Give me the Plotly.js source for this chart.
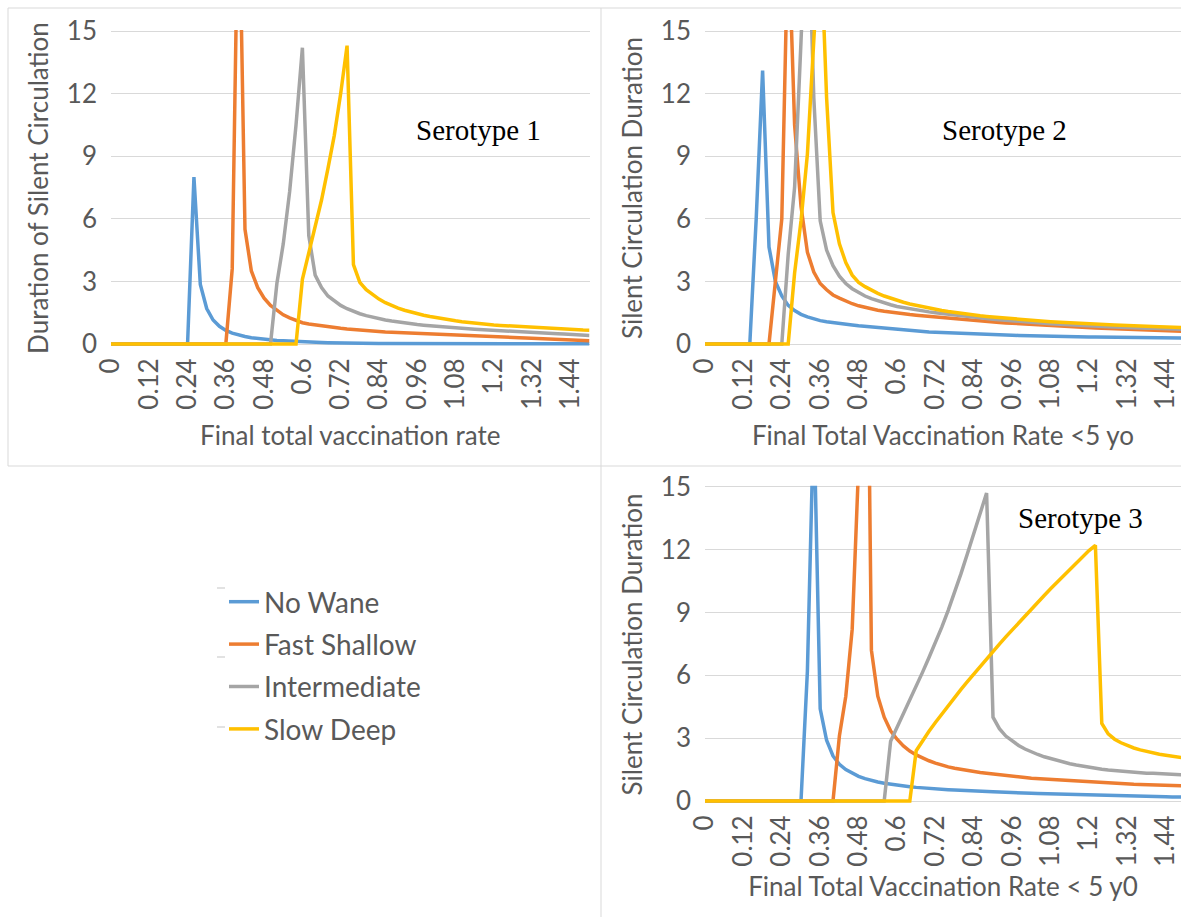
<!DOCTYPE html>
<html>
<head>
<meta charset="utf-8">
<script src="https://cdn.plot.ly/plotly-3.0.1.min.js"></script>
<style>
  html, body { margin: 0; padding: 0; background: #ffffff; }
  #chart { width: 1181px; height: 917px; }
</style>
</head>
<body>
<div id="chart"></div>
<script>
// ---------------- DATA ----------------
const rates = [0,0.02,0.04,0.06,0.08,0.1,0.12,0.14,0.16,0.18,
  0.2,0.22,0.24,0.26,0.28,0.3,0.32,0.34,0.36,0.38,
  0.4,0.42,0.44,0.46,0.48,0.5,0.52,0.54,0.56,0.58,
  0.6,0.62,0.64,0.66,0.68,0.7,0.72,0.74,0.76,0.78,
  0.8,0.82,0.84,0.86,0.88,0.9,0.92,0.94,0.96,0.98,
  1,1.02,1.04,1.06,1.08,1.1,1.12,1.14,1.16,1.18,
  1.2,1.22,1.24,1.26,1.28,1.3,1.32,1.34,1.36,1.38,
  1.4,1.42,1.44,1.46,1.48,1.5];

const seriesNames = ["No Wane", "Fast Shallow", "Intermediate", "Slow Deep"];

// Serotype 1
const s1NoWane = [0,0,0,0,0,0,0,0,0,0,
  0,0,0,8.0,2.85,1.7,1.15,0.85,0.65,0.52,
  0.43,0.36,0.3,0.26,0.22,0.19,0.17,0.15,0.13,0.11,
  0.1,0.09,0.08,0.07,0.06,0.05,0.05,0.04,0.04,0.03,
  0.03,0.03,0.02,0.02,0.02,0.02,0.01,0.01,0.01,0.01,
  0.01,0.01,0.01,0.01,0.01,0.01,0.01,0.01,0.01,0.01,
  0.01,0.01,0.01,0.01,0.01,0.01,0.01,0.01,0.01,0.01,
  0.01,0.01,0.01,0.01,0.01,0.01];
const s1FastShallow = [0,0,0,0,0,0,0,0,0,0,
  0,0,0,0,0,0,0,0,0,3.6,
  23,5.5,3.5,2.7,2.2,1.85,1.6,1.4,1.25,1.12,
  1.02,0.96,0.91,0.86,0.82,0.78,0.75,0.72,0.69,0.665,
  0.64,0.62,0.6,0.58,0.565,0.55,0.535,0.52,0.505,0.49,
  0.48,0.47,0.46,0.45,0.44,0.43,0.415,0.4,0.39,0.375,
  0.36,0.345,0.33,0.315,0.3,0.29,0.275,0.26,0.245,0.235,
  0.22,0.21,0.195,0.185,0.17,0.16];
const s1Intermediate = [0,0,0,0,0,0,0,0,0,0,
  0,0,0,0,0,0,0,0,0,0,
  0,0,0,0,0,0,2.9,4.8,7.3,10.5,
  14.2,5.2,3.3,2.7,2.3,2.05,1.85,1.69,1.56,1.45,
  1.36,1.28,1.21,1.15,1.1,1.05,1.01,0.97,0.93,0.9,
  0.87,0.84,0.81,0.79,0.77,0.75,0.73,0.71,0.69,0.67,
  0.65,0.63,0.61,0.595,0.58,0.565,0.55,0.535,0.52,0.505,
  0.49,0.475,0.46,0.445,0.43,0.41];
const s1SlowDeep = [0,0,0,0,0,0,0,0,0,0,
  0,0,0,0,0,0,0,0,0,0,
  0,0,0,0,0,0,0,0,0,0,
  3.1,4.4,5.6,6.9,8.4,10.0,12.0,14.3,3.8,2.95,
  2.6,2.35,2.15,1.98,1.84,1.72,1.62,1.53,1.45,1.38,
  1.32,1.26,1.21,1.16,1.11,1.07,1.03,1.0,0.97,0.94,
  0.91,0.89,0.87,0.85,0.83,0.81,0.79,0.77,0.75,0.74,
  0.72,0.71,0.7,0.68,0.67,0.66];

// Serotype 2
const s2NoWane = [0,0,0,0,0,0,0,0,6.0,13.1,
  4.65,3.0,2.3,1.85,1.6,1.42,1.3,1.2,1.12,1.07,
  1.02,0.99,0.95,0.91,0.87,0.84,0.8,0.77,0.74,0.71,
  0.68,0.66,0.63,0.61,0.59,0.57,0.56,0.545,0.53,0.515,
  0.5,0.49,0.48,0.47,0.46,0.45,0.44,0.43,0.42,0.41,
  0.4,0.395,0.385,0.38,0.37,0.365,0.36,0.355,0.35,0.345,
  0.34,0.335,0.33,0.325,0.32,0.315,0.31,0.305,0.3,0.3,
  0.295,0.295,0.29,0.29,0.285,0.285];
const s2FastShallow = [0,0,0,0,0,0,0,0,0,0,
  0,3.0,6.0,20,10.5,6.6,4.4,3.45,2.9,2.6,
  2.35,2.2,2.05,1.93,1.83,1.75,1.68,1.62,1.57,1.52,
  1.48,1.44,1.41,1.38,1.35,1.32,1.3,1.27,1.24,1.21,
  1.18,1.15,1.13,1.1,1.08,1.05,1.03,1.01,0.99,0.97,
  0.95,0.93,0.91,0.89,0.88,0.86,0.84,0.83,0.81,0.8,
  0.78,0.77,0.75,0.74,0.72,0.71,0.7,0.68,0.67,0.66,
  0.65,0.64,0.63,0.62,0.61,0.6];
const s2Intermediate = [0,0,0,0,0,0,0,0,0,0,
  0,0,0,4.3,7.5,14.5,22,11.8,5.9,4.5,
  3.75,3.25,2.9,2.65,2.45,2.3,2.17,2.06,1.96,1.88,
  1.8,1.74,1.68,1.63,1.58,1.54,1.5,1.46,1.42,1.38,
  1.34,1.31,1.28,1.25,1.22,1.19,1.16,1.13,1.1,1.08,
  1.05,1.03,1.01,0.99,0.97,0.95,0.93,0.92,0.9,0.89,
  0.87,0.86,0.84,0.83,0.82,0.8,0.79,0.78,0.77,0.76,
  0.75,0.74,0.73,0.72,0.71,0.7];
const s2SlowDeep = [0,0,0,0,0,0,0,0,0,0,
  0,0,0,0,3.4,5.9,9.1,16,20,11.8,
  6.3,4.8,3.9,3.3,2.95,2.75,2.58,2.43,2.3,2.19,
  2.09,2.0,1.92,1.85,1.78,1.72,1.66,1.61,1.56,1.51,
  1.47,1.43,1.39,1.35,1.32,1.29,1.26,1.23,1.2,1.17,
  1.15,1.13,1.11,1.09,1.07,1.05,1.03,1.01,1.0,0.98,
  0.97,0.95,0.94,0.92,0.91,0.9,0.88,0.87,0.86,0.85,
  0.84,0.83,0.82,0.81,0.8,0.79];

// Serotype 3
const s3NoWane = [0,0,0,0,0,0,0,0,0,0,
  0,0,0,0,0,0,6.2,18.5,4.4,2.9,
  2.15,1.75,1.5,1.32,1.18,1.07,0.98,0.91,0.85,0.8,
  0.76,0.72,0.68,0.65,0.62,0.6,0.58,0.56,0.54,0.52,
  0.5,0.49,0.47,0.46,0.45,0.44,0.43,0.41,0.4,0.39,
  0.38,0.37,0.36,0.35,0.34,0.33,0.32,0.31,0.3,0.29,
  0.28,0.275,0.27,0.26,0.255,0.25,0.24,0.235,0.23,0.22,
  0.215,0.21,0.2,0.195,0.19,0.185];
const s3FastShallow = [0,0,0,0,0,0,0,0,0,0,
  0,0,0,0,0,0,0,0,0,0,
  0,3.1,5.0,8.2,16,35,7.2,5.0,4.0,3.35,
  2.95,2.63,2.38,2.2,2.05,1.92,1.81,1.71,1.63,1.56,
  1.5,1.45,1.4,1.36,1.32,1.28,1.24,1.21,1.18,1.15,
  1.12,1.09,1.07,1.04,1.02,1.0,0.98,0.96,0.94,0.92,
  0.9,0.89,0.87,0.86,0.84,0.83,0.81,0.8,0.79,0.78,
  0.77,0.76,0.75,0.74,0.73,0.72];
const s3Intermediate = [0,0,0,0,0,0,0,0,0,0,
  0,0,0,0,0,0,0,0,0,0,
  0,0,0,0,0,0,0,0,0,2.85,
  3.5,4.15,4.8,5.5,6.15,6.85,7.55,8.3,9.1,9.95,
  10.85,11.8,12.75,13.7,14.7,4.0,3.45,3.1,2.85,2.65,
  2.48,2.34,2.22,2.11,2.02,1.93,1.85,1.78,1.72,1.66,
  1.6,1.56,1.52,1.48,1.45,1.42,1.39,1.37,1.35,1.33,
  1.32,1.3,1.29,1.27,1.26,1.25];
const s3SlowDeep = [0,0,0,0,0,0,0,0,0,0,
  0,0,0,0,0,0,0,0,0,0,
  0,0,0,0,0,0,0,0,0,0,
  0,0,0,2.4,2.9,3.33,3.75,4.16,4.56,4.95,
  5.33,5.7,6.07,6.43,6.79,7.14,7.49,7.83,8.17,8.51,
  8.84,9.17,9.49,9.81,10.13,10.44,10.75,11.06,11.36,11.66,
  11.95,12.2,3.7,3.2,2.95,2.78,2.64,2.53,2.44,2.36,
  2.29,2.23,2.18,2.13,2.09,2.05];

const xTickVals = [0,0.12,0.24,0.36,0.48,0.6,0.72,0.84,0.96,1.08,1.2,1.32,1.44];
const xTickText = ["0","0.12","0.24","0.36","0.48","0.6","0.72","0.84","0.96","1.08","1.2","1.32","1.44"];
const yTickVals = [0,3,6,9,12,15];
const yTickText = ["0","3","6","9","12","15"];

const panelTitles = ["Serotype 1", "Serotype 2", "Serotype 3"];
const xTitles = ["Final total vaccination rate", "Final Total Vaccination Rate <5 yo", "Final Total Vaccination Rate < 5 y0"];
const yTitles = ["Duration of Silent Circulation", "Silent Circulation Duration", "Silent Circulation Duration"];

// ---------------- STYLE / LAYOUT ----------------
const W = 1181, H = 917;
const px = v => v / W;
const py = v => 1 - v / H;
const colors = ["#5B9BD5", "#ED7D31", "#A5A5A5", "#FFC000"];
const groups = ["nw", "fs", "im", "sd"];
const sansFont = "Lato, 'Open Sans', 'DejaVu Sans', sans-serif";
const serifFont = "'Liberation Serif', 'DejaVu Serif', serif";
const textGray = "#595959";
const gridGray = "#d9d9d9";

const panelData = [
  [s1NoWane, s1FastShallow, s1Intermediate, s1SlowDeep],
  [s2NoWane, s2FastShallow, s2Intermediate, s2SlowDeep],
  [s3NoWane, s3FastShallow, s3Intermediate, s3SlowDeep]
];

const traces = [];
panelData.forEach((series, p) => {
  series.forEach((vals, k) => {
    traces.push({
      type: "scatter",
      mode: "lines",
      x: rates,
      y: vals,
      name: seriesNames[k],
      legendgroup: groups[k],
      showlegend: p === 0,
      xaxis: p === 0 ? "x" : "x" + (p + 1),
      yaxis: p === 0 ? "y" : "y" + (p + 1),
      line: { color: colors[k], width: 3.5, shape: "linear" },
      hoverinfo: "skip"
    });
  });
});

function xAxis(domain, range, title, anchor, standoff) {
  return {
    domain: domain, range: range, anchor: anchor,
    tickmode: "array", tickvals: xTickVals, ticktext: xTickText,
    tickangle: -90, ticks: "", ticklabelstandoff: 6,
    tickfont: { family: sansFont, size: 26, color: textGray },
    showgrid: false, zeroline: false, showline: false,
    title: { text: title, font: { family: sansFont, size: 26, color: textGray }, standoff: standoff },
    fixedrange: true
  };
}
function yAxis(domain, title, anchor) {
  return {
    domain: domain, range: [-0.1, 15.05], anchor: anchor,
    tickmode: "array", tickvals: yTickVals, ticktext: yTickText,
    ticks: "", ticklabelstandoff: 13,
    tickfont: { family: sansFont, size: 26, color: textGray },
    showgrid: true, gridcolor: gridGray, gridwidth: 1,
    zeroline: false, showline: false,
    title: { text: title, font: { family: sansFont, size: 26, color: textGray }, standoff: 10 },
    fixedrange: true
  };
}

const topDom = [py(346.09), py(29.96)];
const botDom = [py(803.1), py(485.65)];

function border(x0, y0, x1, y1) {
  return { type: "line", xref: "paper", yref: "paper",
    x0: px(x0), y0: py(y0), x1: px(x1), y1: py(y1),
    line: { color: gridGray, width: 1 } };
}
function mark(y) {
  return { type: "line", xref: "paper", yref: "paper",
    x0: px(217), y0: py(y), x1: px(225), y1: py(y),
    line: { color: gridGray, width: 1.5 } };
}

const layout = {
  width: W, height: H, autosize: false,
  margin: { l: 0, r: 0, t: 0, b: 0, pad: 0 },
  paper_bgcolor: "#ffffff", plot_bgcolor: "rgba(0,0,0,0)",
  font: { family: sansFont, color: textGray },
  xaxis: xAxis([px(111), px(589.5)], [0, 1.5], xTitles[0], "y", 18),
  yaxis: yAxis(topDom, yTitles[0], "x"),
  xaxis2: xAxis([px(705), 1], [0, 1.4875], xTitles[1], "y2", 18),
  yaxis2: yAxis(topDom, yTitles[1], "x2"),
  xaxis3: xAxis([px(705), 1], [0, 1.4875], xTitles[2], "y3", 12),
  yaxis3: yAxis(botDom, yTitles[2], "x3"),
  showlegend: true,
  legend: {
    x: px(224), xanchor: "left", y: py(577), yanchor: "top",
    bgcolor: "rgba(0,0,0,0)", borderwidth: 0,
    traceorder: "grouped", tracegroupgap: 3,
    font: { family: sansFont, size: 28, color: textGray }
  },
  annotations: [
    { text: panelTitles[0], xref: "paper", yref: "paper", x: px(478), y: py(130), showarrow: false,
      xanchor: "center", yanchor: "middle", font: { family: serifFont, size: 29, color: "#000000" } },
    { text: panelTitles[1], xref: "paper", yref: "paper", x: px(1004), y: py(130), showarrow: false,
      xanchor: "center", yanchor: "middle", font: { family: serifFont, size: 29, color: "#000000" } },
    { text: panelTitles[2], xref: "paper", yref: "paper", x: px(1080), y: py(518), showarrow: false,
      xanchor: "center", yanchor: "middle", font: { family: serifFont, size: 29, color: "#000000" } }
  ],
  shapes: [
    border(8, 8, 1181, 8),
    border(8, 8, 8, 466),
    border(8, 466, 1181, 466),
    border(601, 8, 601, 917),
    mark(588), mark(657), mark(727)
  ]
};

Plotly.newPlot("chart", traces, layout, { staticPlot: true, displayModeBar: false });
</script>
</body>
</html>
